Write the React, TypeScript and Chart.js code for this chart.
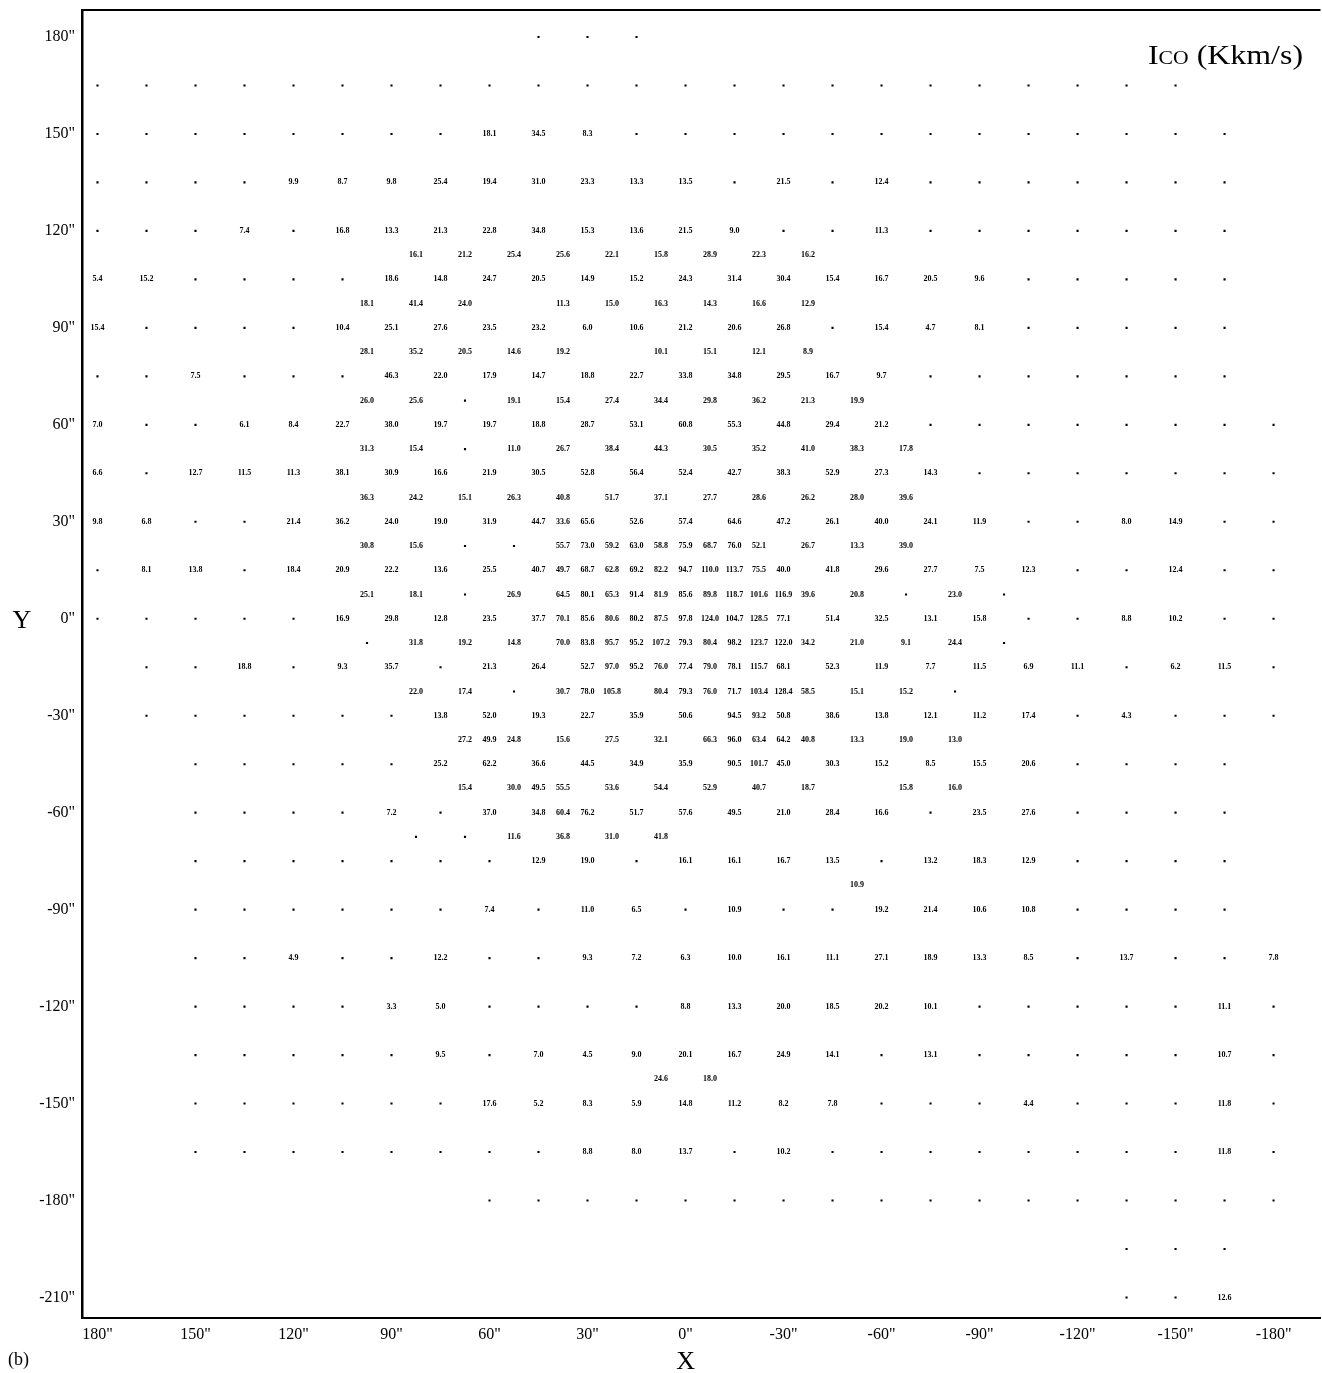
import React, { useEffect, useRef } from 'react';
import { Chart, registerables } from 'chart.js';

Chart.register(...registerables);

// Tick labels (arcsec offsets)
const X_TICKS = [180, 150, 120, 90, 60, 30, 0, -30, -60, -90, -120, -150, -180];
const Y_TICKS = [180, 150, 120, 90, 60, 30, 0, -30, -60, -90, -120, -150, -180, -210];

// Map rows (Y offset, arcsec)
const ROW_Y = [
  180, 165, 150, 135, 120, 112.5, 105, 97.5, 90, 82.5, 75, 67.5, 60, 52.5, 45, 37.5, 30, 22.5, 15, 7.5,
  0, -7.5, -15, -22.5, -30, -37.5, -45, -52.5, -60, -67.5, -75, -82.5, -90, -105, -120, -135, -142.5,
  -150, -165, -180, -195, -210,
];

// ICO values on the 15" columns X = 180, 165, ..., -180 ('.' = observed, no value; '' = none)
const ON_GRID: string[][] = [
  ['', '', '', '', '', '', '', '', '', '.', '.', '.'],
  ['.', '.', '.', '.', '.', '.', '.', '.', '.', '.', '.', '.', '.', '.', '.', '.', '.', '.', '.', '.', '.', '.', '.'],
  ['.', '.', '.', '.', '.', '.', '.', '.', '18.1', '34.5', '8.3', '.', '.', '.', '.', '.', '.', '.', '.', '.', '.', '.', '.', '.'],
  ['.', '.', '.', '.', '9.9', '8.7', '9.8', '25.4', '19.4', '31.0', '23.3', '13.3', '13.5', '.', '21.5', '.', '12.4', '.', '.', '.', '.', '.', '.', '.'],
  ['.', '.', '.', '7.4', '.', '16.8', '13.3', '21.3', '22.8', '34.8', '15.3', '13.6', '21.5', '9.0', '.', '.', '11.3', '.', '.', '.', '.', '.', '.', '.'],
  [],
  ['5.4', '15.2', '.', '.', '.', '.', '18.6', '14.8', '24.7', '20.5', '14.9', '15.2', '24.3', '31.4', '30.4', '15.4', '16.7', '20.5', '9.6', '.', '.', '.', '.', '.'],
  [],
  ['15.4', '.', '.', '.', '.', '10.4', '25.1', '27.6', '23.5', '23.2', '6.0', '10.6', '21.2', '20.6', '26.8', '.', '15.4', '4.7', '8.1', '.', '.', '.', '.', '.'],
  [],
  ['.', '.', '7.5', '.', '.', '.', '46.3', '22.0', '17.9', '14.7', '18.8', '22.7', '33.8', '34.8', '29.5', '16.7', '9.7', '.', '.', '.', '.', '.', '.', '.'],
  [],
  ['7.0', '.', '.', '6.1', '8.4', '22.7', '38.0', '19.7', '19.7', '18.8', '28.7', '53.1', '60.8', '55.3', '44.8', '29.4', '21.2', '.', '.', '.', '.', '.', '.', '.', '.'],
  [],
  ['6.6', '.', '12.7', '11.5', '11.3', '38.1', '30.9', '16.6', '21.9', '30.5', '52.8', '56.4', '52.4', '42.7', '38.3', '52.9', '27.3', '14.3', '.', '.', '.', '.', '.', '.', '.'],
  [],
  ['9.8', '6.8', '.', '.', '21.4', '36.2', '24.0', '19.0', '31.9', '44.7', '65.6', '52.6', '57.4', '64.6', '47.2', '26.1', '40.0', '24.1', '11.9', '.', '.', '8.0', '14.9', '.', '.'],
  ['', '', '', '', '', '', '', '', '', '', '73.0', '63.0', '75.9', '76.0'],
  ['.', '8.1', '13.8', '.', '18.4', '20.9', '22.2', '13.6', '25.5', '40.7', '68.7', '69.2', '94.7', '113.7', '40.0', '41.8', '29.6', '27.7', '7.5', '12.3', '.', '.', '12.4', '.', '.'],
  ['', '', '', '', '', '', '', '', '', '', '80.1', '91.4', '85.6', '118.7', '116.9'],
  ['.', '.', '.', '.', '.', '16.9', '29.8', '12.8', '23.5', '37.7', '85.6', '80.2', '97.8', '104.7', '77.1', '51.4', '32.5', '13.1', '15.8', '.', '.', '8.8', '10.2', '.', '.'],
  ['', '', '', '', '', '', '', '', '', '', '83.8', '95.2', '79.3', '98.2', '122.0'],
  ['', '.', '.', '18.8', '.', '9.3', '35.7', '.', '21.3', '26.4', '52.7', '95.2', '77.4', '78.1', '68.1', '52.3', '11.9', '7.7', '11.5', '6.9', '11.1', '.', '6.2', '11.5', '.'],
  ['', '', '', '', '', '', '', '', '', '', '78.0', '', '79.3', '71.7', '128.4'],
  ['', '.', '.', '.', '.', '.', '.', '13.8', '52.0', '19.3', '22.7', '35.9', '50.6', '94.5', '50.8', '38.6', '13.8', '12.1', '11.2', '17.4', '.', '4.3', '.', '.', '.'],
  ['', '', '', '', '', '', '', '', '49.9', '', '', '', '', '96.0', '64.2'],
  ['', '', '.', '.', '.', '.', '.', '25.2', '62.2', '36.6', '44.5', '34.9', '35.9', '90.5', '45.0', '30.3', '15.2', '8.5', '15.5', '20.6', '.', '.', '.', '.'],
  ['', '', '', '', '', '', '', '', '', '49.5'],
  ['', '', '.', '.', '.', '.', '7.2', '.', '37.0', '34.8', '76.2', '51.7', '57.6', '49.5', '21.0', '28.4', '16.6', '.', '23.5', '27.6', '.', '.', '.', '.'],
  [],
  ['', '', '.', '.', '.', '.', '.', '.', '.', '12.9', '19.0', '.', '16.1', '16.1', '16.7', '13.5', '.', '13.2', '18.3', '12.9', '.', '.', '.', '.'],
  [],
  ['', '', '.', '.', '.', '.', '.', '.', '7.4', '.', '11.0', '6.5', '.', '10.9', '.', '.', '19.2', '21.4', '10.6', '10.8', '.', '.', '.', '.'],
  ['', '', '.', '.', '4.9', '.', '.', '12.2', '.', '.', '9.3', '7.2', '6.3', '10.0', '16.1', '11.1', '27.1', '18.9', '13.3', '8.5', '.', '13.7', '.', '.', '7.8'],
  ['', '', '.', '.', '.', '.', '3.3', '5.0', '.', '.', '.', '.', '8.8', '13.3', '20.0', '18.5', '20.2', '10.1', '.', '.', '.', '.', '.', '11.1', '.'],
  ['', '', '.', '.', '.', '.', '.', '9.5', '.', '7.0', '4.5', '9.0', '20.1', '16.7', '24.9', '14.1', '.', '13.1', '.', '.', '.', '.', '.', '10.7', '.'],
  [],
  ['', '', '.', '.', '.', '.', '.', '.', '17.6', '5.2', '8.3', '5.9', '14.8', '11.2', '8.2', '7.8', '.', '.', '.', '4.4', '.', '.', '.', '11.8', '.'],
  ['', '', '.', '.', '.', '.', '.', '.', '.', '.', '8.8', '8.0', '13.7', '.', '10.2', '.', '.', '.', '.', '.', '.', '.', '.', '11.8', '.'],
  ['', '', '', '', '', '', '', '', '.', '.', '.', '.', '.', '.', '.', '.', '.', '.', '.', '.', '.', '.', '.', '.', '.'],
  ['', '', '', '', '', '', '', '', '', '', '', '', '', '', '', '', '', '', '', '', '', '.', '.', '.'],
  ['', '', '', '', '', '', '', '', '', '', '', '', '', '', '', '', '', '', '', '', '', '.', '.', '12.6'],
];

// ICO values on the half-step columns X = 172.5, 157.5, ..., -172.5
const OFF_GRID: string[][] = [
  [], [], [], [], [],
  ['', '', '', '', '', '', '16.1', '21.2', '25.4', '25.6', '22.1', '15.8', '28.9', '22.3', '16.2'],
  [],
  ['', '', '', '', '', '18.1', '41.4', '24.0', '', '11.3', '15.0', '16.3', '14.3', '16.6', '12.9'],
  [],
  ['', '', '', '', '', '28.1', '35.2', '20.5', '14.6', '19.2', '', '10.1', '15.1', '12.1', '8.9'],
  [],
  ['', '', '', '', '', '26.0', '25.6', '.', '19.1', '15.4', '27.4', '34.4', '29.8', '36.2', '21.3', '19.9'],
  [],
  ['', '', '', '', '', '31.3', '15.4', '.', '11.0', '26.7', '38.4', '44.3', '30.5', '35.2', '41.0', '38.3', '17.8'],
  [],
  ['', '', '', '', '', '36.3', '24.2', '15.1', '26.3', '40.8', '51.7', '37.1', '27.7', '28.6', '26.2', '28.0', '39.6'],
  ['', '', '', '', '', '', '', '', '', '33.6'],
  ['', '', '', '', '', '30.8', '15.6', '.', '.', '55.7', '59.2', '58.8', '68.7', '52.1', '26.7', '13.3', '39.0'],
  ['', '', '', '', '', '', '', '', '', '49.7', '62.8', '82.2', '110.0', '75.5'],
  ['', '', '', '', '', '25.1', '18.1', '.', '26.9', '64.5', '65.3', '81.9', '89.8', '101.6', '39.6', '20.8', '.', '23.0', '.'],
  ['', '', '', '', '', '', '', '', '', '70.1', '80.6', '87.5', '124.0', '128.5'],
  ['', '', '', '', '', '.', '31.8', '19.2', '14.8', '70.0', '95.7', '107.2', '80.4', '123.7', '34.2', '21.0', '9.1', '24.4', '.'],
  ['', '', '', '', '', '', '', '', '', '', '97.0', '76.0', '79.0', '115.7'],
  ['', '', '', '', '', '', '22.0', '17.4', '.', '30.7', '105.8', '80.4', '76.0', '103.4', '58.5', '15.1', '15.2', '.'],
  ['', '', '', '', '', '', '', '', '', '', '', '', '', '93.2'],
  ['', '', '', '', '', '', '', '27.2', '24.8', '15.6', '27.5', '32.1', '66.3', '63.4', '40.8', '13.3', '19.0', '13.0'],
  ['', '', '', '', '', '', '', '', '', '', '', '', '', '101.7'],
  ['', '', '', '', '', '', '', '15.4', '30.0', '55.5', '53.6', '54.4', '52.9', '40.7', '18.7', '', '15.8', '16.0'],
  ['', '', '', '', '', '', '', '', '', '60.4'],
  ['', '', '', '', '', '', '.', '.', '11.6', '36.8', '31.0', '41.8'],
  [],
  ['', '', '', '', '', '', '', '', '', '', '', '', '', '', '', '10.9'],
  [], [], [], [],
  ['', '', '', '', '', '', '', '', '', '', '', '24.6', '18.0'],
  [], [], [], [], [],
];

type Pt = { x: number; y: number; label?: string };

function buildPoints() {
  const dots: Pt[] = [];
  const values: Pt[] = [];
  const add = (x: number, y: number, s: string) => {
    if (s === '.') dots.push({ x, y });
    else if (s) values.push({ x, y, label: s });
  };
  ROW_Y.forEach((y, r) => {
    (ON_GRID[r] || []).forEach((s, i) => add(180 - 15 * i, y, s));
    (OFF_GRID[r] || []).forEach((s, j) => add(172.5 - 15 * j, y, s));
  });
  return { dots, values };
}

const SERIF = '"Liberation Serif", "Times New Roman", serif';

const labelPlugin = {
  id: 'icoLabels',
  afterDatasetsDraw(chart: any) {
    const { ctx, chartArea } = chart;
    const meta = chart.getDatasetMeta(1);
    const data = chart.data.datasets[1].data as Pt[];
    ctx.save();
    ctx.fillStyle = '#000';
    ctx.font = `bold 8px ${SERIF}`;
    ctx.textAlign = 'center';
    ctx.textBaseline = 'middle';
    meta.data.forEach((el: any, i: number) => {
      ctx.fillText(data[i].label, el.x, el.y);
    });
    // top frame line
    ctx.strokeStyle = '#000';
    ctx.lineWidth = 2;
    ctx.beginPath();
    ctx.moveTo(chartArea.left, chartArea.top);
    ctx.lineTo(chartArea.right, chartArea.top);
    ctx.stroke();
    ctx.restore();
  },
  afterDraw(chart: any) {
    const { ctx } = chart;
    const xs = chart.scales.x;
    const ys = chart.scales.y;
    ctx.save();
    ctx.fillStyle = '#000';
    // axis names
    ctx.font = `26px ${SERIF}`;
    ctx.textAlign = 'center';
    ctx.textBaseline = 'middle';
    ctx.fillText('X', xs.getPixelForValue(0), 1362);
    ctx.fillText('Y', 22, ys.getPixelForValue(0) + 2);
    ctx.font = `18px ${SERIF}`;
    ctx.textAlign = 'left';
    ctx.fillText('(b)', 8, 1360);
    // quantity label: I_CO (Kkm/s)
    const left = 1148;
    const right = 1303;
    const base = 64;
    ctx.textBaseline = 'alphabetic';
    const big = `28px ${SERIF}`;
    const small = `19px ${SERIF}`;
    ctx.font = big;
    const wI = ctx.measureText('I').width;
    const wUnit = ctx.measureText(' (Kkm/s)').width;
    ctx.font = small;
    const wCO = ctx.measureText('CO').width;
    const total = wI + wCO + wUnit;
    const sx = (right - left) / total;
    ctx.translate(left, base);
    ctx.scale(sx, 1);
    let x = 0;
    ctx.font = big;
    ctx.fillText('I', x, 0);
    x += wI;
    ctx.font = small;
    ctx.fillText('CO', x, 0);
    x += wCO;
    ctx.font = big;
    ctx.fillText(' (Kkm/s)', x, 0);
    ctx.restore();
  },
};

export default function App() {
  const ref = useRef<HTMLCanvasElement | null>(null);

  useEffect(() => {
    document.body.style.margin = '0';
    const canvas = ref.current;
    if (!canvas) return;
    const { dots, values } = buildPoints();
    const tickFont = { family: SERIF, size: 16 };
    const chart = new Chart(canvas, {
      type: 'scatter',
      data: {
        datasets: [
          {
            label: 'observed',
            data: dots,
            pointStyle: 'rect',
            pointRadius: 1.5,
            pointHoverRadius: 1.5,
            backgroundColor: '#000',
            borderWidth: 0,
          },
          {
            label: 'ICO (Kkm/s)',
            data: values,
            pointRadius: 0,
            pointHoverRadius: 0,
            backgroundColor: '#000',
            borderWidth: 0,
          },
        ],
      },
      options: {
        responsive: false,
        animation: false,
        events: [],
        layout: { padding: { top: 10, right: 0, bottom: 0, left: 0 } },
        plugins: {
          legend: { display: false },
          tooltip: { enabled: false },
          title: { display: false },
        },
        scales: {
          x: {
            type: 'linear',
            min: -194.37,
            max: 184.74,
            reverse: true,
            afterFit: (s: any) => {
              s.height = 55;
              s.paddingLeft = 0;
              s.paddingRight = 0;
            },
            afterBuildTicks: (s: any) => {
              s.ticks = X_TICKS.map((v) => ({ value: v }));
            },
            grid: { display: false, drawTicks: false },
            border: { display: true, color: '#000', width: 2 },
            ticks: {
              autoSkip: false,
              maxRotation: 0,
              padding: 7,
              color: '#000',
              font: tickFont,
              callback: (v: any) => `${v}"`,
            },
          },
          y: {
            type: 'linear',
            min: -216.35,
            max: 188.35,
            afterFit: (s: any) => {
              s.width = 82;
              s.paddingTop = 0;
              s.paddingBottom = 0;
            },
            afterBuildTicks: (s: any) => {
              s.ticks = Y_TICKS.map((v) => ({ value: v }));
            },
            grid: { display: false, drawTicks: false },
            border: { display: true, color: '#000', width: 2.5 },
            ticks: {
              autoSkip: false,
              padding: 7,
              color: '#000',
              font: tickFont,
              callback: (v: any) => `${v}"`,
            },
          },
        },
      },
      plugins: [labelPlugin],
    });
    return () => chart.destroy();
  }, []);

  return (
    <div style={{ width: 1322, height: 1373, background: '#fff' }}>
      <canvas ref={ref} width={1322} height={1373} style={{ display: 'block' }} />
    </div>
  );
}
